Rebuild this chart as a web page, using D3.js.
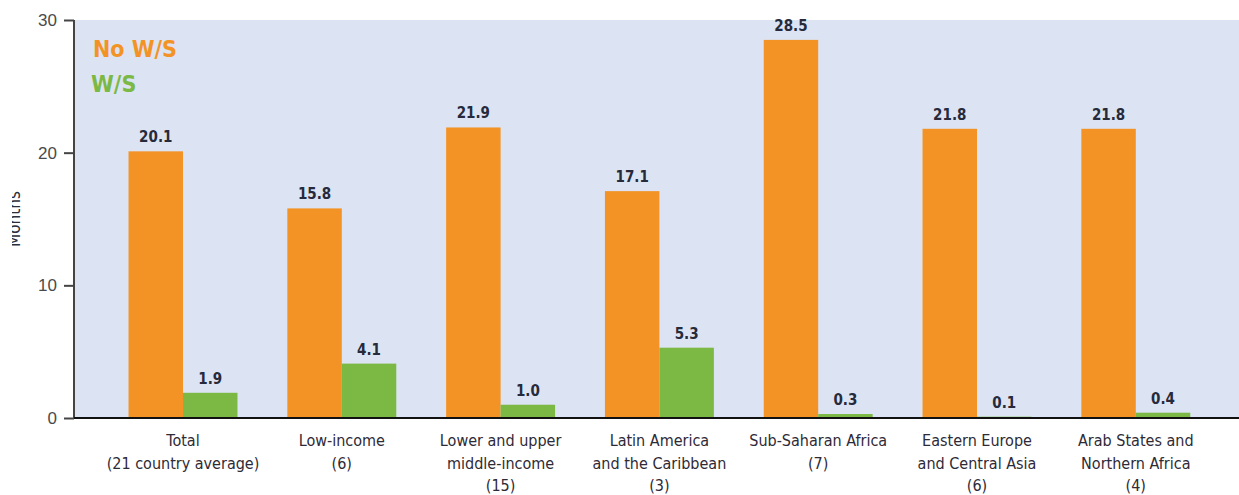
<!DOCTYPE html>
<html><head><meta charset="utf-8">
<script src="https://cdn.jsdelivr.net/npm/d3@7/dist/d3.min.js"></script>
<style>body{margin:0;background:#fff}svg{display:block}</style>
</head><body><svg id="c" width="1239" height="495"></svg>
<script>
const categories = [
  ["Total","(21 country average)"],
  ["Low-income","(6)"],
  ["Lower and upper","middle-income","(15)"],
  ["Latin America","and the Caribbean","(3)"],
  ["Sub-Saharan Africa","(7)"],
  ["Eastern Europe","and Central Asia","(6)"],
  ["Arab States and","Northern Africa","(4)"]
];
const seriesNames = ["No W/S","W/S"];
const noWS = [20.1, 15.8, 21.9, 17.1, 28.5, 21.8, 21.8];
const withWS = [1.9, 4.1, 1.0, 5.3, 0.3, 0.1, 0.4];
const yTicks = [0, 10, 20, 30];
const colors = ["#f39325", "#7bb844"];

const svg = d3.select("#c");
const plotLeft = 75, plotRight = 1239, plotTop = 20, plotBottom = 418;

const y = d3.scaleLinear().domain([0, 30]).range([plotBottom, plotTop]);
const x0 = d3.scaleBand().domain(d3.range(categories.length)).range([103.6, 1215.2]).paddingInner(0.314).paddingOuter(0.157);
const x1 = d3.scaleBand().domain([0,1]).range([0, x0.bandwidth()]);

svg.append("rect").attr("x", plotLeft).attr("y", plotTop).attr("width", plotRight-plotLeft).attr("height", plotBottom-plotTop).attr("fill", "#dce4f3");

const series = [noWS, withWS];
const condensed = "'DejaVu Sans Condensed','DejaVu Sans',sans-serif";

series.forEach((vals, s) => {
  svg.append("g").selectAll("rect").data(vals).join("rect")
    .attr("x", (d,i) => x0(i) + x1(s))
    .attr("y", d => y(d))
    .attr("width", x1.bandwidth())
    .attr("height", d => y(0) - y(d))
    .attr("fill", colors[s]);
  svg.append("g").selectAll("text").data(vals).join("text")
    .attr("x", (d,i) => x0(i) + x1(s) + x1.bandwidth()/2)
    .attr("y", d => y(d) - 9)
    .attr("text-anchor", "middle")
    .attr("font-family", condensed).attr("font-weight", "bold").attr("font-size", 15)
    .attr("fill", "#262a3a")
    .text(d => d.toFixed(1));
});

// y axis
const yAxis = d3.axisLeft(y).tickValues(yTicks).tickSize(10).tickPadding(7);
const ya = svg.append("g").attr("transform", `translate(${plotLeft-1},0)`).call(yAxis);
ya.select(".domain").attr("stroke", "#444").attr("stroke-width", 2).attr("d", `M0,${plotTop}V${plotBottom}`);
ya.selectAll(".tick line").attr("stroke", "#444").attr("stroke-width", 2);
ya.selectAll(".tick text").attr("font-family", "'Liberation Sans',Arial,sans-serif").attr("font-size", 17).attr("fill", "#4a4a4a");

// x axis baseline
svg.append("line").attr("x1", plotLeft-1).attr("x2", plotRight).attr("y1", plotBottom).attr("y2", plotBottom).attr("stroke", "#111").attr("stroke-width", 2);

// category labels
const cg = svg.append("g");
categories.forEach((lines, i) => {
  const t = cg.append("text").attr("x", x0(i) + x0.bandwidth()/2).attr("y", 446)
    .attr("text-anchor", "middle").attr("font-family", condensed).attr("font-size", 16).attr("fill", "#2e2a36");
  lines.forEach((l, j) => t.append("tspan").attr("x", x0(i) + x0.bandwidth()/2).attr("dy", j ? 22.5 : 0).text(l));
});

// y title (partly clipped)
svg.append("text").attr("transform", "translate(20,219) rotate(-90)").attr("text-anchor", "middle")
  .attr("font-family", condensed).attr("font-size", 17).attr("fill", "#2e2e3a").text("Months");
svg.append("rect").attr("x", 0).attr("y", 150).attr("width", 12).attr("height", 150).attr("fill", "#fff");

// legend
svg.append("text").attr("x", 93).attr("y", 57).attr("font-family", condensed).attr("font-weight", "bold").attr("font-size", 23).attr("fill", colors[0]).text(seriesNames[0]);
svg.append("text").attr("x", 91).attr("y", 92).attr("font-family", condensed).attr("font-weight", "bold").attr("font-size", 23).attr("fill", colors[1]).text(seriesNames[1]);
</script></body></html>
